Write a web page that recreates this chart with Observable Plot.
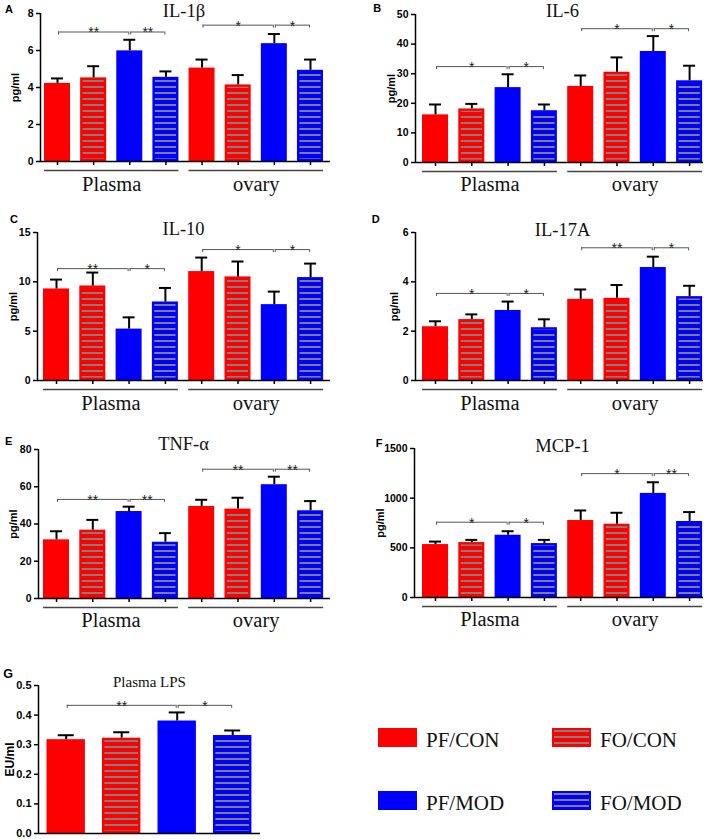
<!DOCTYPE html>
<html><head><meta charset="utf-8">
<script src="https://cdn.jsdelivr.net/npm/d3@7"></script>
<script src="https://cdn.jsdelivr.net/npm/@observablehq/plot@0.6"></script>
<style>
html,body{margin:0;padding:0;overflow:hidden;background:#fff;}
#page{position:relative;width:710px;height:839px;}
.panel{position:absolute;}
.panel svg{overflow:visible;}
</style></head><body>
<svg width="0" height="0" style="position:absolute;left:0;top:0">
<defs>
<pattern id="hatch-red" patternUnits="userSpaceOnUse" width="8" height="6"><rect width="8" height="6" fill="#ff0000"/><rect y="2" width="8" height="2" fill="#808080"/></pattern>
<pattern id="hatch-blue" patternUnits="userSpaceOnUse" width="8" height="6"><rect width="8" height="6" fill="#0000ff"/><rect y="2" width="8" height="2" fill="#808080"/></pattern>
</defs></svg>
<div id="page"></div>
<script>
// ---------- DATA ----------
const groups = ["PF/CON", "FO/CON", "PF/MOD", "FO/MOD"];
const sites = ["Plasma", "ovary"];
const panelLetters = ["A", "B", "C", "D", "E", "F", "G"];
const panelTitles = ["IL-1β", "IL-6", "IL-10", "IL-17A", "TNF-α", "MCP-1", "Plasma LPS"];
const panelUnits = ["pg/ml", "pg/ml", "pg/ml", "pg/ml", "pg/ml", "pg/ml", "EU/ml"];
const yMaxes = [8, 50, 15, 6, 80, 1500, 0.5];

const ticksIL1b = [0, 2, 4, 6, 8];
const ticksIL6 = [0, 10, 20, 30, 40, 50];
const ticksIL10 = [0, 5, 10, 15];
const ticksIL17A = [0, 2, 4, 6];
const ticksTNF = [0, 20, 40, 60, 80];
const ticksMCP = [0, 500, 1000, 1500];
const ticksLPS = [0, 0.1, 0.2, 0.3, 0.4, 0.5];

// order: Plasma (PF/CON, FO/CON, PF/MOD, FO/MOD), ovary (PF/CON, FO/CON, PF/MOD, FO/MOD)
const il1bMean = [4.22, 4.52, 5.98, 4.55, 5.05, 4.14, 6.37, 4.93];
const il1bSem  = [0.27, 0.63, 0.60, 0.32, 0.46, 0.53, 0.52, 0.58];
const il6Mean  = [16.1, 18.1, 25.3, 17.5, 25.7, 30.5, 37.5, 27.6];
const il6Sem   = [3.5, 1.7, 4.5, 2.1, 3.7, 5.0, 5.2, 5.1];
const il10Mean = [9.28, 9.58, 5.21, 7.96, 11.04, 10.5, 7.69, 10.43];
const il10Sem  = [0.95, 1.36, 1.19, 1.42, 1.42, 1.56, 1.32, 1.42];
const il17aMean = [2.18, 2.47, 2.84, 2.14, 3.29, 3.33, 4.58, 3.40];
const il17aSem  = [0.22, 0.21, 0.36, 0.34, 0.40, 0.54, 0.44, 0.44];
const tnfMean  = [31.5, 36.7, 46.7, 30.2, 49.4, 48.0, 61.1, 47.1];
const tnfSem   = [4.6, 5.5, 2.6, 4.9, 3.6, 6.1, 4.3, 5.2];
const mcpMean  = [533, 553, 627, 543, 775, 738, 1048, 765];
const mcpSem   = [30, 27, 40, 37, 101, 115, 112, 95];
const lpsMean  = [0.317, 0.322, 0.380, 0.331];
const lpsSem   = [0.015, 0.020, 0.029, 0.017];

// significance brackets: from bar, to bar, level, stars
const bracketFrom = [0, 2, 4, 6];
const bracketTo   = [2, 3, 6, 7];
const il1bLevels = [7.0, 7.0, 7.37, 7.37];   const il1bStars = ["**", "**", "*", "*"];
const il6Levels  = [32.4, 32.4, 45.2, 45.2]; const il6Stars  = ["*", "*", "*", "*"];
const il10Levels = [11.34, 11.34, 13.27, 13.27]; const il10Stars = ["**", "*", "*", "*"];
const il17aLevels = [3.53, 3.53, 5.38, 5.38]; const il17aStars = ["*", "*", "**", "*"];
const tnfLevels  = [53.2, 53.2, 69.4, 69.4]; const tnfStars  = ["**", "**", "**", "**"];
const mcpLevels  = [758, 758, 1247, 1247];   const mcpStars  = ["*", "*", "*", "**"];
const lpsLevels  = [0.433, 0.433];           const lpsStars  = ["**", "*"];

const panels = [
  {mean: il1bMean, sem: il1bSem, ticks: ticksIL1b, levels: il1bLevels, stars: il1bStars},
  {mean: il6Mean, sem: il6Sem, ticks: ticksIL6, levels: il6Levels, stars: il6Stars},
  {mean: il10Mean, sem: il10Sem, ticks: ticksIL10, levels: il10Levels, stars: il10Stars},
  {mean: il17aMean, sem: il17aSem, ticks: ticksIL17A, levels: il17aLevels, stars: il17aStars},
  {mean: tnfMean, sem: tnfSem, ticks: ticksTNF, levels: tnfLevels, stars: tnfStars},
  {mean: mcpMean, sem: mcpSem, ticks: ticksMCP, levels: mcpLevels, stars: mcpStars},
  {mean: lpsMean, sem: lpsSem, ticks: ticksLPS, levels: lpsLevels, stars: lpsStars}
];

// ---------- STYLE / LAYOUT ----------
const colorOf = {"PF/CON": "#ff0000", "FO/CON": "#ff0000", "PF/MOD": "#0000ff", "FO/MOD": "#0000ff"};
const hatchOf = {"FO/CON": "url(#hatch-red)", "FO/MOD": "url(#hatch-blue)"};
const layout = [
  {left: 0,   top: 0,   w: 350, h: 200, axisX: 40, rightX: 330, topY: 13, zeroY: 161, c0: 57, step: 36.14, barPx: 13, cap: 6, titleDy: 3, labelDx: -25, groupDy: 29, tickFs: 10.5, unitFs: 11},
  {left: 355, top: 0,   w: 355, h: 200, axisX: 60, rightX: 348, topY: 14, zeroY: 162, c0: 80, step: 36.3, barPx: 13, cap: 6, titleDy: 2, labelDx: -24, groupDy: 28, tickFs: 10.5, unitFs: 11},
  {left: 0,   top: 200, w: 350, h: 212, axisX: 37, rightX: 330, topY: 32, zeroY: 180, c0: 56, step: 36.3, barPx: 13, cap: 6, titleDy: 2.5, labelDx: -24, groupDy: 29, tickFs: 10.5, unitFs: 11},
  {left: 355, top: 200, w: 355, h: 212, axisX: 60, rightX: 348, topY: 32, zeroY: 180, c0: 80, step: 36.3, barPx: 13, cap: 6, titleDy: 3, labelDx: -21, groupDy: 29, tickFs: 10.5, unitFs: 11},
  {left: 0,   top: 410, w: 350, h: 220, axisX: 38, rightX: 330, topY: 39, zeroY: 188, c0: 56, step: 36.3, barPx: 13, cap: 6, titleDy: 0.5, labelDx: -25.5, groupDy: 28, tickFs: 10.5, unitFs: 11},
  {left: 355, top: 410, w: 355, h: 220, axisX: 59, rightX: 348, topY: 38, zeroY: 187, c0: 80, step: 36.3, barPx: 13, cap: 6, titleDy: 3, labelDx: -34, groupDy: 28, tickFs: 10.5, unitFs: 11},
  {left: 0,   top: 630, w: 300, h: 209, axisX: 38, rightX: 260, topY: 55, zeroY: 203, c0: 65.7, step: 55.5, barPx: 19.2, cap: 8, titleDy: 1.7, labelDx: -28, groupDy: 0, tickFs: 11, unitFs: 12, titleFs: 15, noGroups: true, noXTicks: true}
];
const letterPos = [[5, 12.7, 11], [373.3, 11.7, 11], [10, 222.7, 11], [371.7, 223.3, 11], [5, 445, 11], [375.7, 447.3, 11], [3.3, 678.3, 12.5]];
const SERIF = "'Liberation Serif', 'Times New Roman', serif";
const SANS = "'Liberation Sans', Arial, sans-serif";

const page = document.getElementById("page");

function drawPanel(k) {
  const p = panels[k], L = layout[k];
  const yMax = yMaxes[k];
  const rows = p.mean.map((m, i) => ({i, group: groups[i % 4], site: sites[Math.floor(i / 4)], mean: m, sem: p.sem[i]}));
  const brackets = p.stars.map((s, j) => ({from: bracketFrom[j], to: bracketTo[j], level: p.levels[j], stars: s}));
  const hw = L.barPx / L.step;
  const x0 = (L.axisX - L.c0) / L.step, x1 = (L.rightX - L.c0) / L.step;
  const mid = (p.mean.length - 1) / 2;
  const marks = [];
  for (const g of groups) {
    const data = rows.filter(d => d.group === g);
    if (hatchOf[g]) {
      marks.push(Plot.rect(data, {x1: d => d.i - hw, x2: d => d.i + hw, y1: 0, y2: "mean", fill: hatchOf[g], stroke: colorOf[g], strokeWidth: 2.4, inset: 1.2}));
    } else {
      marks.push(Plot.rect(data, {x1: d => d.i - hw, x2: d => d.i + hw, y1: 0, y2: "mean", fill: colorOf[g]}));
    }
  }
  // error bars
  marks.push(Plot.ruleX(rows, {x: "i", y1: "mean", y2: d => d.mean + d.sem, stroke: "#000", strokeWidth: 2}));
  marks.push(Plot.ruleY(rows, {x1: "i", x2: "i", y: d => d.mean + d.sem, insetLeft: -L.cap, insetRight: -L.cap, stroke: "#000", strokeWidth: 2}));
  // axes
  marks.push(Plot.ruleY([0], {stroke: "#000", strokeWidth: 1.5}));
  marks.push(Plot.ruleX([x0], {y1: 0, y2: yMax, stroke: "#000", strokeWidth: 1.5}));
  marks.push(Plot.axisY({ticks: p.ticks, tickSize: 4, tickPadding: 3, label: null, fontSize: L.tickFs, fontWeight: "bold", strokeWidth: 1.5,
    tickFormat: yMax < 1 ? d3.format(".1f") : d3.format("d")}));
  if (!L.noXTicks) marks.push(Plot.ruleX(rows, {x: "i", y1: 0, y2: 0, insetBottom: -4, stroke: "#000", strokeWidth: 1.5}));
  // group lines + labels
  if (!L.noGroups) {
    marks.push(Plot.ruleY(sites, {y: 0, x1: (d, i) => 4 * i - hw, x2: (d, i) => 4 * i + 3 + hw, dy: 9, stroke: "#444", strokeWidth: 1.3}));
    marks.push(Plot.text(sites, {x: (d, i) => 4 * i + 1.5, y: 0, dy: L.groupDy, lineAnchor: "bottom", fontFamily: SERIF, fontSize: 20.5, fontWeight: "normal", fill: "#111"}));
  }
  // significance brackets
  marks.push(Plot.ruleY(brackets, {x1: "from", x2: "to", y: "level", insetLeft: 1, insetRight: 1, stroke: "#555", strokeWidth: 1}));
  marks.push(Plot.ruleX(brackets, {x: "from", y1: "level", y2: "level", insetBottom: -3, dx: 1, stroke: "#555", strokeWidth: 1}));
  marks.push(Plot.ruleX(brackets, {x: "to", y1: "level", y2: "level", insetBottom: -3, dx: -1, stroke: "#555", strokeWidth: 1}));
  marks.push(Plot.text(brackets, {x: d => (d.from + d.to) / 2, y: "level", text: "stars", lineAnchor: "middle", dy: 1, fontSize: 14, fontWeight: "normal", fill: "#222"}));
  // title and unit label
  marks.push(Plot.text([panelTitles[k]], {x: mid, frameAnchor: "top", lineAnchor: "bottom", dy: L.titleDy, fontFamily: SERIF, fontSize: L.titleFs || 18.5, fontWeight: "normal", fill: "#111"}));
  marks.push(Plot.text([panelUnits[k]], {frameAnchor: "left", rotate: -90, dx: L.labelDx, textAnchor: "middle", lineAnchor: "middle", fontSize: L.unitFs, fontWeight: "bold", fill: "#000"}));

  const chart = Plot.plot({
    width: L.w, height: L.h,
    marginLeft: L.axisX, marginRight: L.w - L.rightX, marginTop: L.topY, marginBottom: L.h - L.zeroY,
    x: {type: "linear", domain: [x0, x1], axis: null},
    y: {type: "linear", domain: [0, yMax], nice: false},
    style: {fontFamily: SANS, fontWeight: "bold", background: "transparent", overflow: "visible", maxWidth: "none"},
    marks
  });
  const div = document.createElement("div");
  div.className = "panel";
  div.style.left = L.left + "px";
  div.style.top = L.top + "px";
  div.style.width = L.w + "px";
  div.style.height = L.h + "px";
  div.appendChild(chart);
  page.appendChild(div);
}
for (let k = 0; k < panels.length; k++) drawPanel(k);

// overlay: panel letters and legend
const overlay = d3.select("#page").append("svg")
  .attr("width", 710).attr("height", 839)
  .style("position", "absolute").style("left", "0px").style("top", "0px").style("pointer-events", "none");
overlay.selectAll("text.letter").data(panelLetters).join("text")
  .attr("class", "letter")
  .attr("x", (d, i) => letterPos[i][0]).attr("y", (d, i) => letterPos[i][1])
  .attr("font-family", SANS).attr("font-weight", "bold").attr("font-size", (d, i) => letterPos[i][2])
  .text(d => d);

const legendCols = [378, 552];
const legendRows = [728, 791];
groups.forEach((g, k) => {
  const gx = legendCols[k % 2], gy = legendRows[Math.floor(k / 2)];
  const sw = overlay.append("g").attr("transform", `translate(${gx},${gy})`);
  if (hatchOf[g]) {
    sw.append("rect").attr("x", 1).attr("y", 1).attr("width", 37).attr("height", 17)
      .attr("fill", hatchOf[g]).attr("stroke", colorOf[g]).attr("stroke-width", 2);
  } else {
    sw.append("rect").attr("width", 39).attr("height", 19).attr("fill", colorOf[g]);
  }
  overlay.append("text").attr("x", gx + 48).attr("y", gy + 19)
    .attr("font-family", SERIF).attr("font-size", 21).attr("fill", "#111").text(g);
});
</script>
</body></html>
